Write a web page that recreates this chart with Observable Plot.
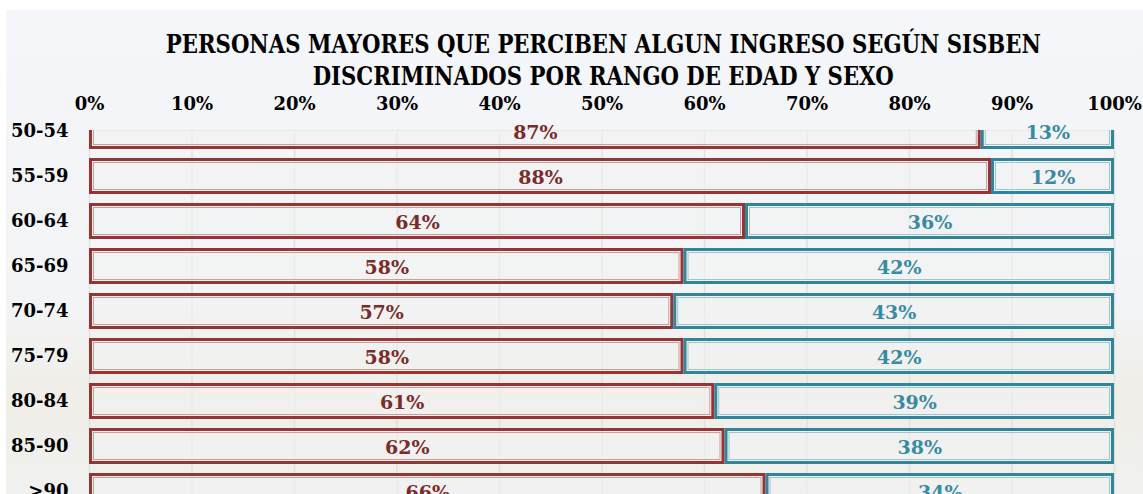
<!DOCTYPE html>
<html>
<head>
<meta charset="utf-8">
<script src="https://cdn.jsdelivr.net/npm/d3@7"></script>
<script src="https://cdn.jsdelivr.net/npm/@observablehq/plot@0.6"></script>
<style>
  html, body { margin: 0; padding: 0; background: #ffffff; width: 1143px; height: 494px; overflow: hidden; }
  #bg { position: absolute; left: 6px; top: 10px; width: 1137px; height: 484px;
        background: linear-gradient(to bottom, #f4f6f9 0%, #f3f4f6 60%, #efeee8 80%, #f1f1ef 100%); }
  #title { position: absolute; left: -97px; top: 28px; width: 1400px; text-align: center;
           font-family: "DejaVu Serif", serif; font-weight: bold; font-size: 26px; line-height: 32px;
           color: #000; white-space: nowrap; }
  #title div { display: block; }
  #title span { display: inline-block; transform-origin: 50% 50%; }
  #chart { position: absolute; left: 0; top: 88px; }
</style>
</head>
<body>
<div id="bg"></div>
<div id="title"><div><span id="t1">PERSONAS MAYORES QUE PERCIBEN ALGUN INGRESO SEGÚN SISBEN</span></div><div><span id="t2">DISCRIMINADOS POR RANGO DE EDAD Y SEXO</span></div></div>
<div id="chart"></div>
<script>
const ages = ["50-54", "55-59", "60-64", "65-69", "70-74", "75-79", "80-84", "85-90", ">90"];
const mujeres = [87, 88, 64, 58, 57, 58, 61, 62, 66];
const hombres = [13, 12, 36, 42, 43, 42, 39, 38, 34];
const xTicks = [0, 10, 20, 30, 40, 50, 60, 70, 80, 90, 100];

const rows = [];
ages.forEach((a, i) => {
  rows.push({age: a, sex: "M", start: 0, end: mujeres[i], value: mujeres[i]});
  rows.push({age: a, sex: "H", start: mujeres[i], end: mujeres[i] + hombres[i], value: hombres[i]});
});

const strokeOuter = {M: "#963634", H: "#31849b"};
const strokeInner = {M: "#d49a99", H: "#9cc6d2"};
const textColor = {M: "#7a2b2a", H: "#378ba2"};

const W = 1143, H = 406, mt = 42;
const step = 45, pad = 0.2;
const center0 = 42.5;
const r0 = center0 - (step * pad + step * (1 - pad) / 2);
const r1 = r0 + step * (ages.length - pad + 2 * pad);

const chart = Plot.plot({
  width: W,
  height: H,
  marginTop: mt,
  marginBottom: 0,
  marginLeft: 89,
  marginRight: 29,
  style: {fontFamily: "DejaVu Serif, serif", background: "transparent", color: "#000", overflow: "hidden"},
  x: {domain: [0, 100], label: null},
  y: {domain: ages, range: [r0, r1], padding: pad, label: null},
  marks: [
    Plot.frame({stroke: "#dcdcdc", strokeWidth: 1}),
    Plot.gridX(xTicks, {stroke: "#e0e0e0", strokeOpacity: 1, strokeWidth: 1.5}),
    Plot.barX(rows, {x1: "start", x2: "end", y: "age", fill: "#f2f2f2", fillOpacity: 0.6,
      stroke: d => strokeOuter[d.sex], strokeWidth: 3, inset: 1.5, clip: true}),
    Plot.barX(rows, {x1: "start", x2: "end", y: "age", fill: "none",
      stroke: d => strokeInner[d.sex], strokeWidth: 1, inset: 4.5, clip: true}),
    Plot.axisX({anchor: "top", ticks: xTicks, tickFormat: d => d + "%", tickSize: 0, tickPadding: 21,
      fontSize: 18, fontWeight: "bold", fill: "#000", label: null}),
    Plot.axisY({anchor: "left", tickSize: 0, tickPadding: 21, fontSize: 18, fontWeight: "bold", fill: "#000", label: null}),
    Plot.text(rows, {x: d => (d.start + d.end) / 2, y: "age", text: d => d.value + "%",
      fill: d => textColor[d.sex], fontSize: 19, fontWeight: "bold", dy: 1})
  ]
});
document.getElementById("chart").appendChild(chart);

// fit title width like the original condensed serif
const t1 = document.getElementById("t1"), t2 = document.getElementById("t2");
const k = 875 / t1.getBoundingClientRect().width;
t1.style.transform = `scaleX(${k})`;
t2.style.transform = `scaleX(${k})`;
</script>
</body>
</html>
